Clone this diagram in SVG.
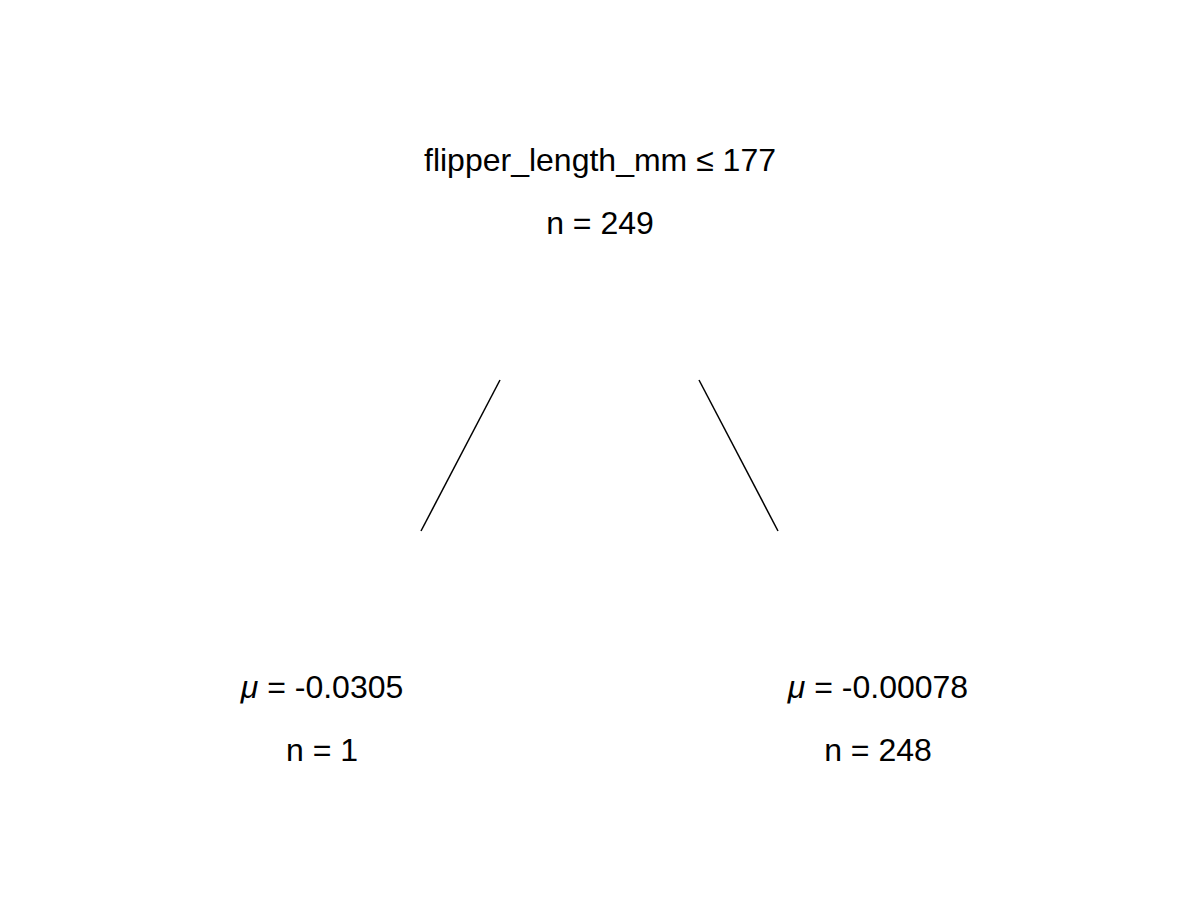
<svg xmlns="http://www.w3.org/2000/svg" width="1200" height="912" viewBox="0 0 1200 912">
<style>
text{font-family:"Liberation Sans",Arial,sans-serif;font-size:32px;fill:#000;text-anchor:middle}
.mu{font-style:italic}
line{stroke:#000;stroke-width:1.5}
</style>
<rect width="1200" height="912" fill="#fff"/>
<g id="connectors">
<line x1="500" y1="380" x2="421" y2="531"/>
<line x1="699" y1="380" x2="778" y2="531"/>
</g>
<g id="root">
<text x="600" y="171">flipper_length_mm ≤ 177</text>
<text x="600" y="234">n = 249</text>
</g>
<g id="leaf-left">
<text x="322" y="698"><tspan class="mu">μ</tspan> = -0.0305</text>
<text x="322" y="761">n = 1</text>
</g>
<g id="leaf-right">
<text x="878" y="698"><tspan class="mu">μ</tspan> = -0.00078</text>
<text x="878" y="761">n = 248</text>
</g>
</svg>
